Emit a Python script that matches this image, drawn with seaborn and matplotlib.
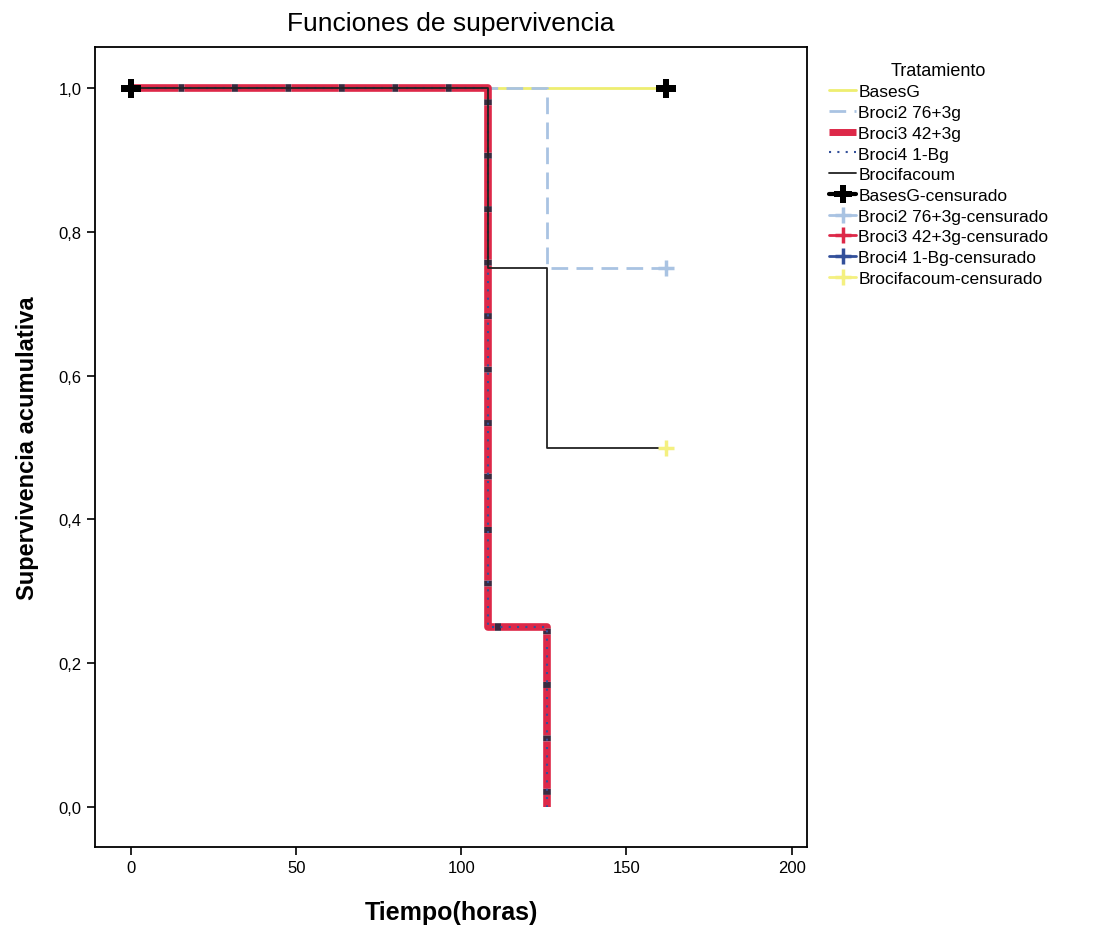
import numpy as np
import pandas as pd
import seaborn as sns
import matplotlib.pyplot as plt
from matplotlib.lines import Line2D

# Kaplan-Meier step data (time in hours, cumulative survival)
groups = ['BasesG', 'Broci2 76+3g', 'Broci3 42+3g', 'Broci4 1-Bg', 'Brocifacoum']
times = {
    'BasesG':       [0, 162],
    'Broci2 76+3g': [0, 126, 162],
    'Broci3 42+3g': [0, 108, 126],
    'Broci4 1-Bg':  [0, 108, 126],
    'Brocifacoum':  [0, 108, 126, 162],
}
surv = {
    'BasesG':       [1.0, 1.0],
    'Broci2 76+3g': [1.0, 0.75, 0.75],
    'Broci3 42+3g': [1.0, 0.25, 0.0],
    'Broci4 1-Bg':  [1.0, 0.25, 0.0],
    'Brocifacoum':  [1.0, 0.75, 0.5, 0.5],
}
# censored observations
cens_time = {'BasesG': [0, 162], 'Broci2 76+3g': [162], 'Broci3 42+3g': [],
             'Broci4 1-Bg': [], 'Brocifacoum': [162]}
cens_surv = {'BasesG': [1.0, 1.0], 'Broci2 76+3g': [0.75], 'Broci3 42+3g': [],
             'Broci4 1-Bg': [], 'Brocifacoum': [0.5]}

line_style = {
    'BasesG':       dict(color='#eeee70', linestyle='-', lw=2.0),
    'Broci2 76+3g': dict(color='#a9c3e2', linestyle=(0, (6, 3)), lw=2.0),
    'Broci3 42+3g': dict(color='#dd2848', linestyle=(0, (6.2, 0.8)), lw=5.5),
    'Broci4 1-Bg':  dict(color='#33509a', linestyle=(0, (1, 3)), lw=1.5),
    'Brocifacoum':  dict(color='#222222', linestyle='-', lw=1.3),
}
cens_style = {
    'BasesG':       dict(color='black', marker='P', s=200, mew=0),
    'Broci2 76+3g': dict(color='#a9c3e2', marker='+', s=140, mew=2.5),
    'Broci3 42+3g': dict(color='#dd2848', marker='+', s=140, mew=2.5),
    'Broci4 1-Bg':  dict(color='#33509a', marker='+', s=140, mew=2.5),
    'Brocifacoum':  dict(color='#f4f080', marker='+', s=140, mew=2.5),
}

sns.set_style('white')
plt.rcParams['font.family'] = ['Liberation Sans', 'DejaVu Sans']
plt.rcParams['text.color'] = 'black'
plt.rcParams['axes.labelcolor'] = 'black'

fig = plt.figure(figsize=(10.96, 9.37), dpi=100)
ax = fig.add_axes([0.0867, 0.095, 0.650, 0.854])

for g in groups:
    df = pd.DataFrame({'t': times[g], 's': surv[g]})
    st = line_style[g]
    kw = {}
    if g == 'Broci3 42+3g':
        kw['gapcolor'] = '#3a2a40'
    sns.lineplot(data=df, x='t', y='s', drawstyle='steps-post', estimator=None,
                 sort=False, ax=ax, color=st['color'], linestyle=st['linestyle'],
                 lw=st['lw'], legend=False, **kw)

for g in groups:
    if not cens_time[g]:
        continue
    st = cens_style[g]
    df = pd.DataFrame({'t': cens_time[g], 's': cens_surv[g]})
    sns.scatterplot(data=df, x='t', y='s', ax=ax, color=st['color'],
                    marker=st['marker'], s=st['s'], linewidth=st['mew'],
                    edgecolor=st['color'] if st['marker'] == '+' else 'none',
                    legend=False, zorder=5)

ax.set_xlim(-10.9, 204.8)
ax.set_ylim(-0.056, 1.058)
ax.set_xticks([0, 50, 100, 150, 200])
ax.set_xticklabels(['0', '50', '100', '150', '200'], fontsize=12)
yt = [0.0, 0.2, 0.4, 0.6, 0.8, 1.0]
ax.set_yticks(yt)
ax.set_yticklabels([f'{v:.1f}'.replace('.', ',') for v in yt], fontsize=12)
ax.tick_params(direction='out', length=6, width=1.2, colors='black', bottom=True, left=True)
for sp in ax.spines.values():
    sp.set_color('black')
    sp.set_linewidth(1.3)

ax.set_title('Funciones de supervivencia', fontsize=19, pad=12)
ax.set_xlabel('Tiempo(horas)', fontsize=18, fontweight='bold', labelpad=18)
ax.set_ylabel('Supervivencia acumulativa', fontsize=17, fontweight='bold', labelpad=14)

# legend built from the same styles
handles, labels = [], []
for g in groups:
    st = line_style[g]
    kw = {'gapcolor': '#3a2a40'} if g == 'Broci3 42+3g' else {}
    handles.append(Line2D([0], [0], color=st['color'], linestyle=st['linestyle'],
                          lw=min(st['lw'], 5), **kw))
    labels.append(g)
for g in groups:
    st = cens_style[g]
    handles.append(Line2D([0], [0], color=st['color'], lw=3 if g == 'BasesG' else 2,
                          marker=st['marker'], markersize=13 if g == 'BasesG' else 12,
                          markeredgewidth=st['mew'] if st['marker'] == '+' else 0))
    labels.append(g + '-censurado')

ax.legend(handles, labels, title='Tratamiento', loc='upper left',
          bbox_to_anchor=(1.02, 0.99), frameon=False, fontsize=12.5,
          title_fontsize=13, handlelength=1.6, handletextpad=0.1,
          labelspacing=0.32, borderaxespad=0)

fig.savefig('out.png', dpi=100)
